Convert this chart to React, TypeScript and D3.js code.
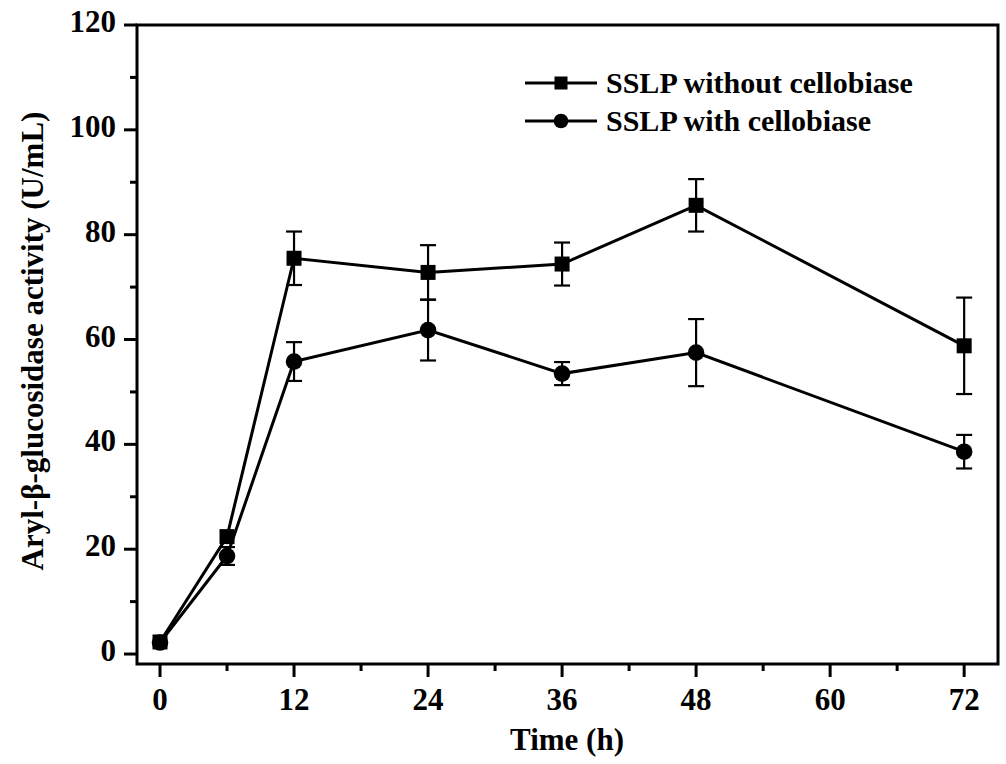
import * as d3 from 'd3';

const times = [0, 6, 12, 24, 36, 48, 72];
const withoutMean = [2.3, 22.4, 75.5, 72.8, 74.4, 85.6, 58.8];
const withoutErr = [0, 0, 5.1, 5.2, 4.1, 5.0, 9.2];
const withMean = [2.2, 18.7, 55.8, 61.8, 53.5, 57.5, 38.6];
const withErr = [0, 1.7, 3.7, 5.8, 2.2, 6.4, 3.2];
const xMajor = [0, 12, 24, 36, 48, 60, 72];
const xMinor = [6, 18, 30, 42, 54, 66];
const yMajor = [0, 20, 40, 60, 80, 100, 120];
const yMinor = [10, 30, 50, 70, 90, 110];
const seriesNames = ['SSLP without cellobiase', 'SSLP with cellobiase'];

const W = 1006;
const H = 764;
const plot = { left: 137, right: 998, top: 25, bottom: 664 };
const font = '"Liberation Serif", "Times New Roman", serif';

export default function App() {
  const x = d3.scaleLinear().domain([-2.06, 75.03]).range([plot.left, plot.right]);
  const y = d3.scaleLinear().domain([-1.9, 120]).range([plot.bottom, plot.top]);

  const line = d3
    .line<number>()
    .x((_, i) => x(times[i]))
    .y((d) => y(d));

  const series = [
    { mean: withoutMean, err: withoutErr, shape: 'square' },
    { mean: withMean, err: withErr, shape: 'circle' },
  ];

  const marker = (shape: string, cx: number, cy: number, s: number, key?: string) =>
    shape === 'square' ? (
      <rect key={key} x={cx - s / 2} y={cy - s / 2} width={s} height={s} fill="#000" />
    ) : (
      <circle key={key} cx={cx} cy={cy} r={s / 2 + 0.8} fill="#000" />
    );

  return (
    <svg
      width={W}
      height={H}
      style={{ position: 'absolute', left: 0, top: 0, background: '#fff' }}
      fontFamily={font}
      fontWeight="bold"
    >
      <rect width={W} height={H} fill="#fff" />

      {/* Data lines, error bars, markers */}
      {series.map((s, si) => (
        <g key={si}>
          <path d={line(s.mean) ?? ''} fill="none" stroke="#000" strokeWidth={3} />
          {s.mean.map((m, i) =>
            s.err[i] > 0 ? (
              <g key={i} stroke="#000" strokeWidth={2.2}>
                <line x1={x(times[i])} x2={x(times[i])} y1={y(m - s.err[i])} y2={y(m + s.err[i])} />
                <line x1={x(times[i]) - 8} x2={x(times[i]) + 8} y1={y(m + s.err[i])} y2={y(m + s.err[i])} />
                <line x1={x(times[i]) - 8} x2={x(times[i]) + 8} y1={y(m - s.err[i])} y2={y(m - s.err[i])} />
              </g>
            ) : null
          )}
          {s.mean.map((m, i) => marker(s.shape, x(times[i]), y(m), 15, `m${i}`))}
        </g>
      ))}

      {/* Frame */}
      <rect
        x={plot.left}
        y={plot.top}
        width={plot.right - plot.left}
        height={plot.bottom - plot.top}
        fill="none"
        stroke="#000"
        strokeWidth={3}
      />

      {/* Y ticks */}
      <g stroke="#000" strokeWidth={3}>
        {yMajor.map((v) => (
          <line key={v} x1={plot.left - 13} x2={plot.left} y1={y(v)} y2={y(v)} />
        ))}
        {yMinor.map((v) => (
          <line key={v} x1={plot.left - 7} x2={plot.left} y1={y(v)} y2={y(v)} />
        ))}
      </g>
      {yMajor.map((v) => (
        <text key={v} x={plot.left - 21} y={y(v) + 7} textAnchor="end" fontSize={31}>
          {v}
        </text>
      ))}

      {/* X ticks */}
      <g stroke="#000" strokeWidth={3}>
        {xMajor.map((v) => (
          <line key={v} x1={x(v)} x2={x(v)} y1={plot.bottom} y2={plot.bottom + 13} />
        ))}
        {xMinor.map((v) => (
          <line key={v} x1={x(v)} x2={x(v)} y1={plot.bottom} y2={plot.bottom + 7} />
        ))}
      </g>
      {xMajor.map((v) => (
        <text key={v} x={x(v)} y={710} textAnchor="middle" fontSize={31}>
          {v}
        </text>
      ))}

      {/* Axis titles */}
      <text x={567} y={750} textAnchor="middle" fontSize={31}>
        Time (h)
      </text>
      <text transform="translate(43, 341) rotate(-90)" textAnchor="middle" fontSize={31}>
        Aryl-β-glucosidase activity (U/mL)
      </text>

      {/* Legend */}
      {seriesNames.map((name, i) => {
        const ly = 83 + i * 38;
        return (
          <g key={name}>
            <line x1={525} x2={597} y1={ly} y2={ly} stroke="#000" strokeWidth={3} />
            {marker(series[i].shape, 561, ly, 13)}
            <text x={606} y={ly + 10} fontSize={30}>
              {name}
            </text>
          </g>
        );
      })}
    </svg>
  );
}
